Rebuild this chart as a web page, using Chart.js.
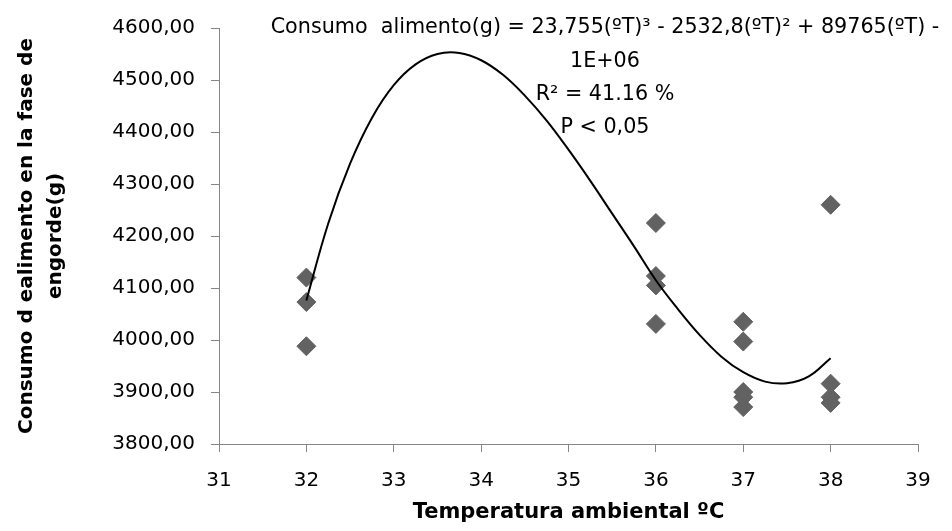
<!DOCTYPE html>
<html>
<head>
<meta charset="utf-8">
<script src="https://cdn.jsdelivr.net/npm/chart.js@4.4.1/dist/chart.umd.min.js"></script>
<style>
  html, body { margin: 0; padding: 0; background: #ffffff; }
  #wrap { width: 952px; height: 531px; }
</style>
</head>
<body>
<div id="wrap"><canvas id="c" width="952" height="531"></canvas></div>
<script>
// ---- data ----
const pointTemps    = [32, 32, 32, 36, 36, 36, 36, 37, 37, 37, 37, 37, 38, 38, 38, 38];
const pointConsumo  = [4120, 4073, 3988, 4225, 4123, 4105, 4031, 4035, 3997, 3900, 3890, 3871, 4260, 3916, 3890, 3879];

const curveTemps   = [32, 32.25, 32.5, 32.75, 33, 33.25, 33.5, 33.75, 34, 34.25, 34.5, 34.75, 35,
                      35.25, 35.5, 35.75, 36, 36.25, 36.5, 36.75, 37, 37.25, 37.5, 37.75, 38];
const curveConsumo = [4076, 4224, 4339, 4427, 4490, 4530, 4550, 4552, 4538, 4510, 4470, 4422, 4366,
                      4306, 4243, 4180, 4115, 4060, 4010, 3968, 3938, 3920, 3917, 3930, 3965];

const xTickLabels = ['31', '32', '33', '34', '35', '36', '37', '38', '39'];
const yTickLabels = ['3800,00', '3900,00', '4000,00', '4100,00', '4200,00', '4300,00', '4400,00', '4500,00', '4600,00'];

const xTitle = 'Temperatura ambiental ºC';
const yTitle = ['Consumo d ealimento en la fase de', 'engorde(g)'];
const eqLines = [
  'Consumo  alimento(g) = 23,755(ºT)³ - 2532,8(ºT)² + 89765(ºT) -',
  '1E+06',
  'R² = 41.16 %',
  'P < 0,05'
];

const FONT = "'DejaVu Sans', 'Liberation Sans', sans-serif";
const AXIS_GRAY = '#868686';

const equationPlugin = {
  id: 'equationText',
  afterDatasetsDraw(chart, args, opts) {
    const ctx = chart.ctx;
    ctx.save();
    ctx.font = opts.size + 'px ' + FONT;
    ctx.fillStyle = '#000000';
    ctx.textAlign = 'center';
    ctx.textBaseline = 'middle';
    opts.lines.forEach((t, i) => ctx.fillText(t, opts.x, opts.y[i]));
    ctx.restore();
  }
};

new Chart(document.getElementById('c'), {
  type: 'scatter',
  data: {
    datasets: [
      {
        label: 'curve',
        data: curveTemps.map((t, i) => ({ x: t, y: curveConsumo[i] })),
        showLine: true,
        borderColor: '#000000',
        borderWidth: 2,
        pointRadius: 0,
        tension: 0.4,
        fill: false
      },
      {
        label: 'points',
        data: pointTemps.map((t, i) => ({ x: t, y: pointConsumo[i] })),
        pointStyle: 'rectRot',
        pointRadius: 9.5,
        pointBackgroundColor: '#626262',
        pointBorderColor: '#626262',
        pointBorderWidth: 1,
        showLine: false
      }
    ]
  },
  options: {
    responsive: false,
    animation: false,
    devicePixelRatio: 1,
    layout: { padding: { top: 23, right: 34, left: 0, bottom: 0 } },
    plugins: {
      legend: { display: false },
      tooltip: { enabled: false },
      equationText: { lines: eqLines, x: 605, y: [28, 62, 95, 128], size: 20.7 }
    },
    scales: {
      x: {
        type: 'linear',
        min: 31, max: 39,
        afterFit: s => { s.height = 87; },
        border: { display: true, color: AXIS_GRAY, width: 1 },
        grid: { display: true, drawOnChartArea: false, drawTicks: true, tickLength: 8, color: AXIS_GRAY },
        ticks: {
          stepSize: 1,
          color: '#000000',
          padding: 17,
          font: { family: FONT, size: 20 },
          callback: (v, i) => xTickLabels[i]
        },
        title: {
          display: true,
          text: xTitle,
          color: '#000000',
          font: { family: FONT, size: 21, weight: 'bold', lineHeight: 1.2 },
          padding: { top: 0, bottom: 6 }
        }
      },
      y: {
        type: 'linear',
        min: 3800, max: 4600,
        afterFit: s => { s.width = 219; },
        border: { display: true, color: AXIS_GRAY, width: 1 },
        grid: { display: true, drawOnChartArea: false, drawTicks: true, tickLength: 8, color: AXIS_GRAY },
        ticks: {
          stepSize: 100,
          color: '#000000',
          padding: 16,
          font: { family: FONT, size: 20 },
          callback: (v, i) => yTickLabels[i]
        },
        title: {
          display: true,
          text: yTitle,
          color: '#000000',
          font: { family: FONT, size: 20, weight: 'bold', lineHeight: 1.45 },
          padding: { top: 12, bottom: 0 }
        }
      }
    }
  },
  plugins: [equationPlugin]
});
</script>
</body>
</html>
